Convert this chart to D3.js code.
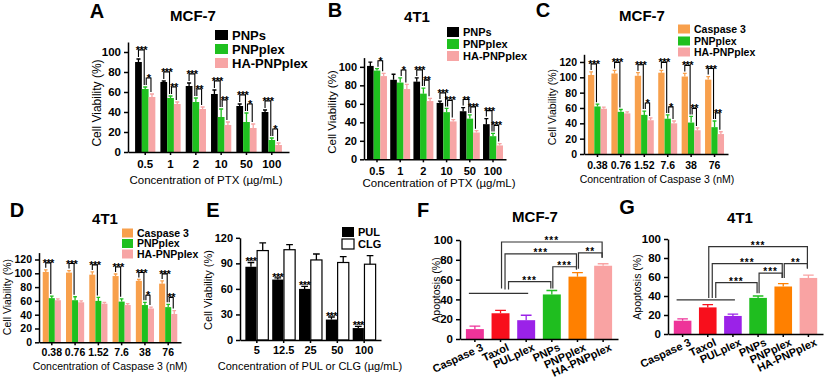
<!DOCTYPE html>
<html>
<head>
<meta charset="utf-8">
<script src="https://cdn.jsdelivr.net/npm/d3@7"></script>
<style>
  body { margin: 0; background: #fff; }
  svg { font-family: Arial, "Liberation Sans", sans-serif; }
  .axis path, .axis line { stroke: #000; stroke-width: 1.5; }
</style>
</head>
<body>
<svg id="fig" width="824" height="383"></svg>
<script>
// ---- data ----
const ptxConc = ['0.5', '1', '2', '10', '50', '100'];
const casConc = ['0.38', '0.76', '1.52', '7.6', '38', '76'];
const pulConc = ['5', '12.5', '25', '50', '100'];
const apopGroups = ['Caspase 3', 'Taxol', 'PULplex', 'PNPs', 'PNPplex', 'HA-PNPplex'];

// A: MCF-7, PTX
const aPNPs = [90, 70, 66, 58, 46, 40];
const aPNPsErr = [3, 1, 3, 4, 2, 2];
const aPNPplex = [63, 54, 50, 35, 30, 12];
const aPNPplexErr = [2, 2, 4, 8, 9, 2];
const aHA = [55, 48, 43, 27, 24, 7];
const aHAErr = [3, 2, 2, 3, 4, 2];
const aSig1 = ['***', '***', '***', '***', '***', '***'];
const aSig2 = ['*', '**', '**', '**', '*', '*'];

// B: 4T1, PTX
const bPNPs = [101, 86, 84, 61, 52, 38];
const bPNPsErr = [4, 6, 4, 2, 4, 6];
const bPNPplex = [96, 83, 71, 51, 44, 25];
const bPNPplexErr = [2, 5, 6, 4, 4, 3];
const bHA = [90, 76, 63, 41, 29, 15];
const bHAErr = [3, 5, 3, 2, 2, 2];
const bSig1 = ['', '', '***', '***', '**', '***'];
const bSig2 = ['*', '*', '**', '***', '***', '***'];

// C: MCF-7, Caspase 3
const cCas = [103, 105, 102, 106, 101, 97];
const cCasErr = [4, 4, 4, 3, 4, 4];
const cPNPplex = [62, 55, 51, 46, 41, 35];
const cPNPplexErr = [3, 3, 5, 5, 8, 8];
const cHA = [59, 53, 44, 40, 31, 26];
const cHAErr = [2, 2, 3, 3, 3, 3];
const cSig1 = ['***', '***', '***', '***', '***', '***'];
const cSig2 = ['', '', '*', '*', '**', '**'];

// D: 4T1, Caspase 3
const dCas = [102, 101, 98, 96, 89, 85];
const dCasErr = [3, 3, 4, 3, 2, 4];
const dPNPplex = [64, 61, 60, 59, 54, 51];
const dPNPplexErr = [3, 5, 5, 4, 4, 4];
const dHA = [61, 58, 56, 54, 49, 41];
const dHAErr = [2, 2, 2, 2, 2, 5];
const dSig1 = ['***', '***', '***', '***', '***', '***'];
const dSig2 = ['', '', '', '', '*', '**'];

// E: PUL vs CLG
const ePUL = [86, 71, 60, 24, 14];
const ePULErr = [5, 2, 3, 3, 2];
const eCLG = [105, 106, 94, 91, 89];
const eCLGErr = [9, 6, 7, 7, 10];
const eSig = ['***', '***', '***', '***', '***'];

// F, G: apoptosis
const fApop = [10, 26, 19, 45, 63, 74];
const fApopErr = [3, 3, 5, 4, 4, 2];
const gApop = [14, 28, 19, 38, 50, 59];
const gApopErr = [2, 3, 2, 2, 3, 3];
const fLine = { from: 0, to: 2, value: 46 };
const fBrackets = [
  { from: 1, to: 5, level: 98, fromEnd: 51, toEnd: 82, label: '***' },
  { from: 1, to: 4, level: 86, fromEnd: 50, toEnd: 71, label: '***' },
  { from: 1, to: 3, level: 58, fromEnd: 50, toEnd: 51, label: '***' },
  { from: 3, to: 4, level: 73, fromEnd: 51, toEnd: 70, label: '***' },
  { from: 4, to: 5, level: 87, fromEnd: 71, toEnd: 82, label: '**' }
];
const gLine = { from: 0, to: 2, value: 36 };
const gBrackets = [
  { from: 1, to: 5, level: 92, fromEnd: 38, toEnd: 69, label: '***' },
  { from: 1, to: 4, level: 74, fromEnd: 38, toEnd: 59, label: '***' },
  { from: 1, to: 3, level: 54, fromEnd: 38, toEnd: 43, label: '***' },
  { from: 3, to: 4, level: 64, fromEnd: 43, toEnd: 59, label: '***' },
  { from: 4, to: 5, level: 74, fromEnd: 59, toEnd: 69, label: '**' }
];

// ---- colours ----
const BLACK = '#000', GREEN = '#1fc01f', PINK = '#f7a5a5', ORANGE = '#f8a04c';
const apopColors = ['#ee3399', '#f80f1c', '#9b22e8', '#1fbe1f', '#ff8000', '#f9a3a3'];

const svg = d3.select('#fig');

function label(x, y, txt, size, weight, anchor) {
  return svg.append('text').attr('x', x).attr('y', y).text(txt)
    .attr('font-size', size).attr('font-weight', weight || 'normal')
    .attr('text-anchor', anchor || 'middle');
}

function vlabel(x, y, txt, size) {
  svg.append('text').attr('transform', `translate(${x},${y}) rotate(-90)`)
    .attr('text-anchor', 'middle').attr('dy', '0.35em')
    .attr('font-size', size).text(txt);
}

function grouped(cfg) {
  const g = svg.append('g');
  const x = d3.scaleBand().domain(cfg.cats).range(cfg.xr)
    .paddingInner(cfg.pi).paddingOuter(cfg.po);
  const xs = d3.scaleBand().domain(d3.range(cfg.series.length))
    .range([0, x.bandwidth()]).paddingInner(cfg.sp || 0);
  const y = d3.scaleLinear().domain([0, cfg.ymax]).range(cfg.yr);
  const cx = (i, si) => x(cfg.cats[i]) + xs(si) + xs.bandwidth() / 2;
  const top = (i, si) => y(cfg.series[si].values[i] + cfg.series[si].errs[i]);

  cfg.series.forEach((s, si) => {
    const sg = g.append('g');
    sg.selectAll('rect').data(s.values).join('rect')
      .attr('x', (d, i) => x(cfg.cats[i]) + xs(si))
      .attr('y', d => y(d))
      .attr('width', xs.bandwidth())
      .attr('height', d => y(0) - y(d))
      .attr('fill', s.color)
      .attr('stroke', s.stroke || 'none').attr('stroke-width', 1.2);
    const ec = s.stroke || s.color;
    const cap = xs.bandwidth() * 0.3;
    sg.selectAll('path.err').data(s.values).join('path').attr('class', 'err')
      .attr('d', (d, i) => `M${cx(i, si)},${y(d)}V${top(i, si)}M${cx(i, si) - cap},${top(i, si)}H${cx(i, si) + cap}`)
      .attr('stroke', ec).attr('stroke-width', 1.3).attr('fill', 'none');
  });

  // significance brackets between neighbouring series
  (cfg.sigs || []).forEach(sig => {
    sig.labels.forEach((lab, i) => {
      if (!lab) return;
      const xa = cx(i, sig.a) + (sig.a === 0 ? 0 : 1);
      const xb = cx(i, sig.b) - 1;
      const ta = top(i, sig.a) - 2, tb = top(i, sig.b) - 2;
      const yl = Math.min(ta, tb) - cfg.pad;
      g.append('path').attr('d', `M${xa},${ta}V${yl}H${xb}V${tb}`)
        .attr('fill', 'none').attr('stroke', '#000').attr('stroke-width', 1.1);
      g.append('text').attr('x', (xa + xb) / 2).attr('y', yl + cfg.starDy)
        .attr('text-anchor', 'middle').attr('font-size', cfg.starSize)
        .attr('font-weight', 'bold').attr('letter-spacing', -0.6).text(lab);
    });
  });

  // stars directly above a series
  if (cfg.barStars) {
    cfg.barStars.labels.forEach((lab, i) => {
      g.append('text').attr('x', cx(i, cfg.barStars.s)).attr('y', top(i, cfg.barStars.s) + 3)
        .attr('text-anchor', 'middle').attr('font-size', cfg.starSize)
        .attr('font-weight', 'bold').attr('letter-spacing', -0.6).text(lab);
    });
  }

  const ya = g.append('g').attr('class', 'axis').attr('transform', `translate(${cfg.xr[0]},0)`)
    .call(d3.axisLeft(y).tickValues(cfg.yticks).tickSize(4).tickSizeOuter(0));
  ya.selectAll('text').attr('font-size', cfg.tickSize).attr('font-weight', 'bold')
    .attr('font-family', 'Arial, "Liberation Sans", sans-serif').attr('fill', '#000');
  const xa = g.append('g').attr('class', 'axis').attr('transform', `translate(0,${y(0)})`)
    .call(d3.axisBottom(x).tickSize(3).tickSizeOuter(0));
  xa.selectAll('text').attr('font-size', cfg.tickSize).attr('font-weight', 'bold')
    .attr('font-family', 'Arial, "Liberation Sans", sans-serif').attr('fill', '#000')
    .attr('dy', cfg.tickDy || '0.9em');

  // legend
  cfg.series.forEach((s, si) => {
    const ly = cfg.legend.y[si];
    svg.append('rect').attr('x', cfg.legend.x).attr('y', ly - cfg.legend.h / 2)
      .attr('width', cfg.legend.w).attr('height', cfg.legend.h)
      .attr('fill', s.color).attr('stroke', s.stroke || 'none').attr('stroke-width', 1.2);
    label(cfg.legend.x + cfg.legend.w + 4, ly, s.name, cfg.legend.size, 'bold', 'start')
      .attr('dy', '0.36em');
  });
}

function apoptosis(cfg) {
  const g = svg.append('g');
  const x = d3.scaleBand().domain(apopGroups).range(cfg.xr).paddingInner(0.3).paddingOuter(0.23);
  const y = d3.scaleLinear().domain([0, 100]).range(cfg.yr);
  const cx = i => x(apopGroups[i]) + x.bandwidth() / 2;
  g.selectAll('rect').data(cfg.values).join('rect')
    .attr('x', (d, i) => x(apopGroups[i])).attr('y', d => y(d))
    .attr('width', x.bandwidth()).attr('height', d => y(0) - y(d))
    .attr('fill', (d, i) => apopColors[i]);
  const cap = x.bandwidth() * 0.3;
  g.selectAll('path.err').data(cfg.values).join('path').attr('class', 'err')
    .attr('d', (d, i) => `M${cx(i)},${y(d)}V${y(d + cfg.errs[i])}M${cx(i) - cap},${y(d + cfg.errs[i])}H${cx(i) + cap}`)
    .attr('stroke', (d, i) => apopColors[i]).attr('stroke-width', 1.3);

  // control line
  g.append('line')
    .attr('x1', cx(cfg.line.from) - 6).attr('x2', cx(cfg.line.to) + 2)
    .attr('y1', y(cfg.line.value)).attr('y2', y(cfg.line.value))
    .attr('stroke', '#333').attr('stroke-width', 1.2);

  cfg.brackets.forEach(b => {
    const k = cfg.brackets.filter(o => o.from === b.from && o.level > b.level).length;
    const nested = cfg.brackets.filter(o => o.from === b.from).length > 1;
    const xf = cx(b.from) + (nested ? 1 + 3.5 * k : 1);
    const xt = cx(b.to) - 1;
    g.append('path')
      .attr('d', `M${xf},${y(b.fromEnd)}V${y(b.level)}H${xt}V${y(b.toEnd)}`)
      .attr('fill', 'none').attr('stroke', '#333').attr('stroke-width', 1.2);
    g.append('text').attr('x', (xf + xt) / 2).attr('y', y(b.level) + 2)
      .attr('text-anchor', 'middle').attr('font-size', 10).attr('font-weight', 'bold')
      .attr('letter-spacing', 1).text(b.label);
  });

  const ya = g.append('g').attr('class', 'axis').attr('transform', `translate(${cfg.xr[0]},0)`)
    .call(d3.axisLeft(y).tickValues([0, 20, 40, 60, 80, 100]).tickSize(4).tickSizeOuter(0));
  ya.selectAll('text').attr('font-size', 11.5).attr('font-weight', 'bold')
    .attr('font-family', 'Arial, "Liberation Sans", sans-serif').attr('fill', '#000');
  const xa = g.append('g').attr('class', 'axis').attr('transform', `translate(0,${y(0)})`)
    .call(d3.axisBottom(x).tickSize(3).tickSizeOuter(0));
  xa.selectAll('text').attr('font-size', 11).attr('font-weight', 'bold')
    .attr('font-family', 'Arial, "Liberation Sans", sans-serif').attr('fill', '#000')
    .attr('text-anchor', 'end').attr('dy', '0.35em')
    .attr('transform', 'translate(5,2) rotate(-25)');
}

// ---- A ----
grouped({
  cats: ptxConc, xr: [128, 289], pi: 0.2, po: 0.28,
  ymax: 110, yr: [152, 42], yticks: [0, 20, 40, 60, 80, 100],
  series: [
    { name: 'PNPs', color: BLACK, values: aPNPs, errs: aPNPsErr },
    { name: 'PNPplex', color: GREEN, values: aPNPplex, errs: aPNPplexErr },
    { name: 'HA-PNPplex', color: PINK, values: aHA, errs: aHAErr }
  ],
  sigs: [{ a: 0, b: 1, labels: aSig1 }, { a: 1, b: 2, labels: aSig2 }],
  pad: 7, starDy: 4, starSize: 11, tickSize: 11.5,
  legend: { x: 215, y: [35, 49, 63], w: 13, h: 10, size: 13 }
});
label(97, 18, 'A', 20, 'bold');
label(193, 21, 'MCF-7', 15, 'bold');
vlabel(97, 103, 'Cell Viability (%)', 12);
label(206, 184, 'Concentration of PTX (µg/mL)', 11.5);

// ---- B ----
grouped({
  cats: ptxConc, xr: [364, 506], pi: 0.14, po: 0.13,
  ymax: 110, yr: [159.3, 57.6], yticks: [0, 20, 40, 60, 80, 100],
  series: [
    { name: 'PNPs', color: BLACK, values: bPNPs, errs: bPNPsErr },
    { name: 'PNPplex', color: GREEN, values: bPNPplex, errs: bPNPplexErr },
    { name: 'HA-PNPplex', color: PINK, values: bHA, errs: bHAErr }
  ],
  sigs: [{ a: 0, b: 1, labels: bSig1 }, { a: 1, b: 2, labels: bSig2 }],
  pad: 6, starDy: 4, starSize: 10.5, tickSize: 11,
  legend: { x: 447, y: [32, 44, 56], w: 12, h: 10, size: 11 }
});
label(335, 17, 'B', 20, 'bold');
label(417, 22, '4T1', 15, 'bold');
vlabel(332, 112, 'Cell Viability (%)', 11.5);
label(439, 187, 'Concentration of PTX (µg/mL)', 11.5);

// ---- C ----
grouped({
  cats: casConc, xr: [584, 728], pi: 0.19, po: 0.17,
  ymax: 130, yr: [154, 54.3], yticks: [0, 20, 40, 60, 80, 100, 120],
  series: [
    { name: 'Caspase 3', color: ORANGE, values: cCas, errs: cCasErr },
    { name: 'PNPplex', color: GREEN, values: cPNPplex, errs: cPNPplexErr },
    { name: 'HA-PNPplex', color: PINK, values: cHA, errs: cHAErr }
  ],
  sigs: [{ a: 0, b: 1, labels: cSig1 }, { a: 1, b: 2, labels: cSig2 }],
  pad: 6, starDy: 4, starSize: 11, tickSize: 10.5,
  legend: { x: 678, y: [29, 41, 52], w: 12, h: 9, size: 10.5 }
});
label(543, 17, 'C', 20, 'bold');
label(642, 21, 'MCF-7', 15, 'bold');
vlabel(552, 107, 'Cell Viability (%)', 10.5);
label(657, 183, 'Concentration of Caspase 3 (nM)', 10.5);

// ---- D ----
grouped({
  cats: casConc, xr: [39, 181], pi: 0.22, po: 0.16,
  ymax: 130, yr: [342.3, 252.6], yticks: [0, 20, 40, 60, 80, 100, 120],
  series: [
    { name: 'Caspase 3', color: ORANGE, values: dCas, errs: dCasErr },
    { name: 'PNPplex', color: GREEN, values: dPNPplex, errs: dPNPplexErr },
    { name: 'HA-PNPplex', color: PINK, values: dHA, errs: dHAErr }
  ],
  sigs: [{ a: 0, b: 1, labels: dSig1 }, { a: 1, b: 2, labels: dSig2 }],
  pad: 5, starDy: 4, starSize: 11, tickSize: 10.5, tickDy: '0.71em',
  legend: { x: 122, y: [233, 243.5, 254], w: 11, h: 9, size: 10.5 }
});
label(17, 217, 'D', 20, 'bold');
label(105, 224, '4T1', 15, 'bold');
vlabel(7, 297, 'Cell Viability (%)', 10.5);
label(110, 370, 'Concentration of Caspase 3 (nM)', 10.5);

// ---- E ----
grouped({
  cats: pulConc, xr: [240, 381], pi: 0.145, po: 0.2, sp: 0.05,
  ymax: 120, yr: [340, 237.8], yticks: [0, 30, 60, 90, 120],
  series: [
    { name: 'PUL', color: BLACK, values: ePUL, errs: ePULErr },
    { name: 'CLG', color: '#fff', stroke: '#000', values: eCLG, errs: eCLGErr }
  ],
  barStars: { s: 0, labels: eSig },
  starSize: 11, tickSize: 11, tickDy: '0.71em',
  legend: { x: 342, y: [232, 244], w: 12, h: 10, size: 11 }
});
label(213, 217, 'E', 20, 'bold');
vlabel(208, 290, 'Cell Viability (%)', 11);
label(310, 370, 'Concentration of PUL or CLG (µg/mL)', 11);

// ---- F ----
apoptosis({ xr: [460, 618], yr: [339, 240], values: fApop, errs: fApopErr, line: fLine, brackets: fBrackets });
label(423, 217, 'F', 20, 'bold');
label(535, 222, 'MCF-7', 15, 'bold');
vlabel(436, 290, 'Apoptosis (%)', 10.5);

// ---- G ----
apoptosis({ xr: [668, 823], yr: [334, 239], values: gApop, errs: gApopErr, line: gLine, brackets: gBrackets });
label(627, 214, 'G', 20, 'bold');
label(740, 223, '4T1', 15, 'bold');
vlabel(637, 287, 'Apoptosis (%)', 10.5);
</script>
</body>
</html>
